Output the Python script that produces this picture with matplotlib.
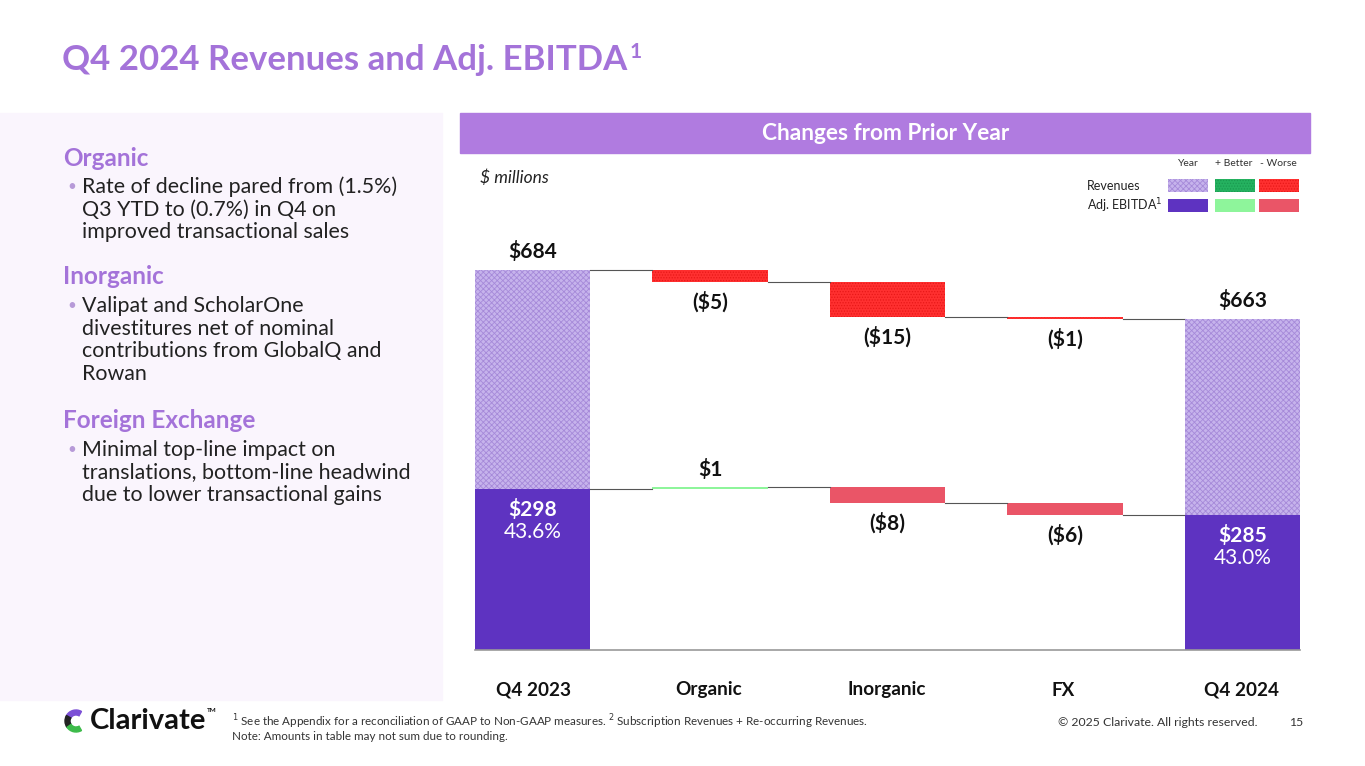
import matplotlib.pyplot as plt
from matplotlib.patches import Rectangle, Wedge
from matplotlib.transforms import IdentityTransform

plt.rcParams['font.family'] = ['Lato', 'DejaVu Sans']
plt.rcParams['hatch.linewidth'] = 0.6

# data ($ millions)
categories = ["Q4 2023", "Organic", "Inorganic", "FX", "Q4 2024"]
rev_start = 684
rev_changes = [-5, -15, -1]
rev_end = 663
ebitda_start = 298
ebitda_changes = [1, -8, -6]
ebitda_end = 285
margin_start = "43.6%"
margin_end = "43.0%"

W, H = 1365, 766
fig = plt.figure(figsize=(W / 100, H / 100), dpi=100)

def fx(px):
    return px / W

def fy(py):
    return 1 - py / H

# --- slide decoration ---
title_col = '#a473d9'
fig.text(fx(62), fy(60), "Q4 2024 Revenues and Adj. EBITDA", color=title_col,
         fontsize=25, fontweight='bold', va='center', ha='left')
fig.text(fx(630), fy(52), "1", color=title_col, fontsize=15, fontweight='bold', va='center')

fig.patches.append(Rectangle((0, fy(700)), fx(442), fy(113) - fy(700),
                             transform=fig.transFigure, color='#faf5fd', zorder=0))
fig.patches.append(Rectangle((fx(460), fy(153)), fx(1310) - fx(460), fy(113) - fy(153),
                             transform=fig.transFigure, color='#b07be0', zorder=0))
fig.text(fx(886), fy(133), "Changes from Prior Year", color='white', fontsize=16.3,
         fontweight='bold', ha='center', va='center')

sections = [
    ("Organic", 158, ["Rate of decline pared from (1.5%)", "Q3 YTD to (0.7%) in Q4 on",
                      "improved transactional sales"]),
    ("Inorganic", 277, ["Valipat and ScholarOne", "divestitures net of nominal",
                        "contributions from GlobalQ and", "Rowan"]),
    ("Foreign Exchange", 421, ["Minimal top-line impact on",
                               "translations, bottom-line headwind",
                               "due to lower transactional gains"]),
]
for head, y0, lines in sections:
    fig.text(fx(63), fy(y0), head, color=title_col, fontsize=17.5, fontweight='bold', va='center')
    for i, ln in enumerate(lines):
        yy = y0 + 29 + i * 22.5
        if i == 0:
            fig.text(fx(67), fy(yy), "\u2022", color='#b79ad8', fontsize=11, va='center')
        fig.text(fx(82), fy(yy), ln, color='#222222', fontsize=15.4, va='center')

# --- chart axes ---
ax_l, ax_r, ax_b, ax_t = 475, 1300, 650, 240
ax = fig.add_axes([fx(ax_l), fy(ax_b), fx(ax_r) - fx(ax_l), fy(ax_t) - fy(ax_b)])
ax2 = ax.twinx()
for a in (ax, ax2):
    a.set_axis_off()
    a.set_xlim(-0.325, 4.325)
ax.set_ylim(520.9, 696.9)
ax2.set_ylim(217.5, 422.5)
ax.patch.set_alpha(0)

bw = 0.65
x = list(range(len(categories)))

rev_year = '#c6b3ec'
rev_year_h = '#a68ad9'
rev_worse = '#ff3030'
rev_worse_h = '#e81818'
eb_year = '#5e33c1'
eb_better = '#8ef59b'
eb_worse = '#ea5567'


def waterfall(a, start, changes, end, fc_year, hatch_year, fc_good, fc_bad,
              hatch_good=None, hatch_bad=None, hc_year=None, hc_good=None, hc_bad=None, z=2):
    base = a.get_ylim()[0]
    a.bar(x[0], start - base, bottom=base, width=bw, color=fc_year, hatch=hatch_year,
          edgecolor=hc_year if hc_year else fc_year, linewidth=0, zorder=z)
    level = start
    tops = []
    for i, c in enumerate(changes):
        good = c > 0
        a.bar(x[i + 1], c, bottom=level, width=bw, color=fc_good if good else fc_bad,
              hatch=hatch_good if good else hatch_bad,
              edgecolor=(hc_good if good else hc_bad) or (fc_good if good else fc_bad),
              linewidth=0, zorder=z)
        a.plot([x[i] + bw / 2, x[i + 1] - bw / 2], [level, level], color='#555555', lw=0.8, zorder=z)
        tops.append((level, level + c))
        level += c
    a.plot([x[-2] + bw / 2, x[-1] - bw / 2], [level, level], color='#555555', lw=0.8, zorder=z)
    a.bar(x[-1], end - base, bottom=base, width=bw, color=fc_year, hatch=hatch_year,
          edgecolor=hc_year if hc_year else fc_year, linewidth=0, zorder=z)
    return tops


def money(v):
    return f"${v}" if v >= 0 else f"(${-v})"


rev_tops = waterfall(ax, rev_start, rev_changes, rev_end, rev_year, 'xxxxxx', '#25b260', rev_worse,
                     hatch_good='......', hatch_bad='......', hc_year=rev_year_h,
                     hc_good='#1a9a50', hc_bad=rev_worse_h, z=1)
eb_tops = waterfall(ax2, ebitda_start, ebitda_changes, ebitda_end, eb_year, None, eb_better, eb_worse, z=3)

lab = dict(fontsize=15, fontweight='bold', color='#111111', ha='center')
ax.annotate(money(rev_start), (x[0], rev_start), xytext=(0, 6), textcoords='offset points', va='bottom', **lab)
ax.annotate(money(rev_end), (x[-1], rev_end), xytext=(0, 6), textcoords='offset points', va='bottom', **lab)
for i, c in enumerate(rev_changes):
    lo = min(rev_tops[i])
    ax.annotate(money(c), (x[i + 1], lo), xytext=(0, -7), textcoords='offset points', va='top', **lab)

for i, c in enumerate(ebitda_changes):
    if c > 0:
        ax2.annotate(money(c), (x[i + 1], max(eb_tops[i])), xytext=(0, 5),
                     textcoords='offset points', va='bottom', **lab)
    else:
        ax2.annotate(money(c), (x[i + 1], min(eb_tops[i])), xytext=(0, -7),
                     textcoords='offset points', va='top', **lab)

for xi, v, m in [(x[0], ebitda_start, margin_start), (x[-1], ebitda_end, margin_end)]:
    ax2.annotate(money(v), (xi, v), xytext=(0, -7), textcoords='offset points', va='top',
                 fontsize=15, fontweight='bold', color='white', ha='center', zorder=5)
    ax2.annotate(m, (xi, v), xytext=(0, -24), textcoords='offset points', va='top',
                 fontsize=15, color='white', ha='center', zorder=5)

# baseline
fig.lines.append(plt.Line2D([fx(ax_l), fx(ax_r)], [fy(650), fy(650)], transform=fig.transFigure,
                            color='#999999', lw=1.2))

for xi, name in zip([534, 709, 887, 1063, 1242], categories):
    fig.text(fx(xi), fy(690), name, fontsize=13.6, fontweight='bold', ha='center', va='center',
             color='#111111')

fig.text(fx(480), fy(178), "$ millions", fontsize=12.5, style='italic', va='center', color='#222222')

# legend
for xs, t in [(1188, "Year"), (1234, "+ Better"), (1278, "- Worse")]:
    fig.text(fx(xs), fy(163), t, fontsize=7.5, ha='center', va='center', color='#333333')
fig.text(fx(1087), fy(186), "Revenues", fontsize=9, va='center', color='#222222')
fig.text(fx(1087), fy(206), "Adj. EBITDA$^1$", fontsize=9, va='center', color='#222222')
sw = [
    (1168, 179, rev_year, 'xxxxxx', rev_year_h), (1215, 179, '#25b260', '......', '#1a9a50'),
    (1259, 179, rev_worse, '......', rev_worse_h),
    (1168, 199, eb_year, None, eb_year), (1215, 199, eb_better, None, eb_better),
    (1259, 199, eb_worse, None, eb_worse),
]
for sx, sy, fc, hh, hc in sw:
    fig.patches.append(Rectangle((fx(sx), fy(sy + 13)), fx(40), 13 / H, transform=fig.transFigure,
                                 facecolor=fc, hatch=hh, edgecolor=hc, linewidth=0))

# footer logo (drawn in pixels)
cx, cy = 76, H - 721
for th1, th2, col in [(60, 150, '#7b4fd6'), (150, 215, '#222222'), (215, 300, '#3dbb4a')]:
    fig.patches.append(Wedge((cx, cy), 11, th1, th2, width=5,
                             transform=IdentityTransform(), color=col))
fig.text(fx(90), fy(721), "Clarivate", fontsize=21, fontweight='bold', va='center', color='#111111')
fig.text(fx(207), fy(711), "TM", fontsize=4.5, fontweight='bold', va='center', color='#111111')
fig.text(fx(232), fy(722), "$^1$ See the Appendix for a reconciliation of GAAP to Non-GAAP measures. "
         "$^2$ Subscription Revenues + Re-occurring Revenues.", fontsize=8.4, va='center', color='#333333')
fig.text(fx(232), fy(737), "Note: Amounts in table may not sum due to rounding.", fontsize=8.4,
         va='center', color='#333333')
fig.text(fx(1258), fy(722), "\u00a9 2025 Clarivate. All rights reserved.", fontsize=8.8, ha='right',
         va='center', color='#333333')
fig.text(fx(1303), fy(722), "15", fontsize=8.8, ha='right', va='center', color='#333333')

fig.savefig("out.png", dpi=100)
